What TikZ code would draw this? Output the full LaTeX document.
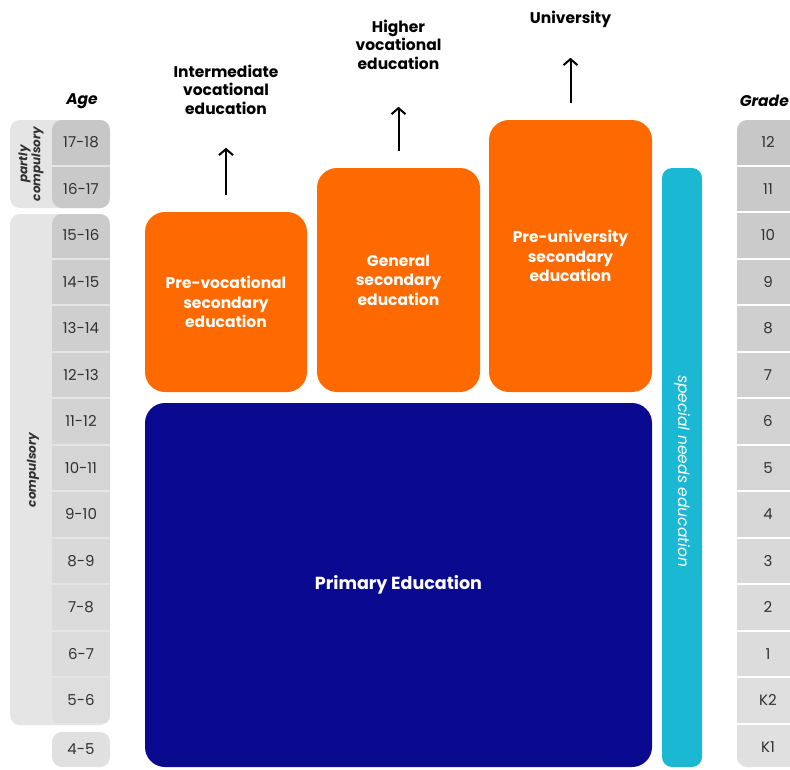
\documentclass[tikz,border=0pt]{standalone}
\usepackage{fontspec}
\setmainfont{Poppins}
\usetikzlibrary{arrows.meta, positioning}

\definecolor{nlorange}{RGB}{255,106,0}
\definecolor{nlblue}{RGB}{10,10,145}
\definecolor{nlcyan}{RGB}{27,184,212}
\definecolor{nlframe}{RGB}{229,229,229}
\definecolor{nltext}{RGB}{50,50,50}

\begin{document}
\begin{tikzpicture}[
      x=1pt,
      y=-1pt,
      stage/.style={
          rectangle,
          rounded corners=20pt,
          align=center,
          inner sep=0pt,
          text=white,
          font=\bfseries\fontsize{15.5}{19.5}\selectfont,
          fill=nlorange
        },
      primary/.style={
          stage,
          font=\bfseries\fontsize{17.5}{20}\selectfont,
          fill=nlblue
        },
      goal/.style={
          align=center,
          inner sep=0pt,
          text=black,
          font=\bfseries\fontsize{15.5}{18.5}\selectfont
        },
      cell/.style={
          rectangle,
          inner sep=0pt,
          minimum width=58pt,
          minimum height=44.5pt,
          text=nltext,
          font=\fontsize{15}{17}\selectfont
        },
      gradecell/.style={
          cell,
          minimum width=62pt
        },
      side/.style={
          rotate=90,
          align=center,
          text=nltext,
          font=\bfseries\itshape\fontsize{12}{13}\selectfont
        },
      head/.style={
          text=black,
          font=\bfseries\itshape\fontsize{15.5}{18}\selectfont
        },
      arrow/.style={
          -{Straight Barb[length=6pt, width=14pt, line width=2pt]},
          line width=2pt,
          shorten <=17pt
        }
    ]

    \clip (0,0) rectangle (790,769);
    \fill[white] (0,0) rectangle (790,769);

    % Age column
    \fill[nlframe, rounded corners=10pt] (10,120) rectangle (110,208);
    \fill[nlframe, rounded corners=10pt] (10,214) rectangle (110,725);
    \begin{scope}
      \clip[rounded corners=10pt] (52,120) rectangle (110,208);
      \foreach \lbl [count=\k from 0] in {17-18,16-17} {
          \pgfmathsetmacro\shade{22-\k*10/13}
          \node[cell, fill=black!\shade] (age\k) at (81,{142.25+46.5*\k}) {\lbl};
        }
    \end{scope}
    \begin{scope}
      \clip[rounded corners=10pt] (52,214) rectangle (110,725);
      \foreach \lbl [count=\k from 2] in {15-16,14-15,13-14,12-13,11-12,10-11,9-10,8-9,7-8,6-7,5-6} {
          \pgfmathsetmacro\shade{22-\k*10/13}
          \node[cell, fill=black!\shade] (age\k) at (81,{142.25+46.5*\k}) {\lbl};
        }
    \end{scope}
    \node[cell, minimum height=35pt, rounded corners=10pt, fill=black!12] (age13) at (81,749.5) {4-5};

    \node[side] (partly) at (31,164) {partly\\compulsory};
    \node[side] (compulsory) at (33,470) {compulsory};
    \node[head] (age) at (82,101) {Age};

    % Grade column
    \begin{scope}
      \clip[rounded corners=10pt] (737,120) rectangle (800,767);
      \foreach \lbl [count=\k from 0] in {12,11,10,9,8,7,6,5,4,3,2,1,K2,K1} {
          \pgfmathsetmacro\shade{22-\k*10/13}
          \node[gradecell, fill=black!\shade] (grade\k) at (768,{142.25+46.5*\k}) {\lbl};
        }
    \end{scope}
    \node[head, anchor=east, inner sep=0pt] (grade) at (789,101) {Grade};

    % Special needs
    \node[rectangle, rounded corners=10pt, fill=nlcyan, minimum width=40pt, minimum height=599pt] (special) at (682,467.5) {};
    \node[rotate=-90, text=white, font=\itshape\fontsize{15.5}{17}\selectfont] (speciallbl) at (682,471) {special needs education};

    % Nodes
    \node[stage, minimum width=162pt, minimum height=180pt] (prevoc) at (226,302) {Pre-vocational\\secondary\\education};
    \node[stage, minimum width=163pt, minimum height=224pt] (general) at (398.5,280) {General\\secondary\\education};
    \node[stage, minimum width=163pt, minimum height=272pt] (preuni) at (570.5,256) {Pre-university\\secondary\\education};
    \node[primary, minimum width=507pt, minimum height=364pt] (primary) at (398.5,585) {Primary Education};

    \node[goal, above=97pt of prevoc] (intvoc) {Intermediate\\vocational\\education};
    \node[goal, above=98pt of general] (highvoc) {Higher\\vocational\\education};
    \node[goal, above=92pt of preuni] (uni) {University};

    % Arrows
    \draw[arrow, shorten >=33pt] (prevoc) -- (intvoc);
    \draw[arrow, shorten >=37pt] (general) -- (highvoc);
    \draw[arrow, shorten >=30pt] (preuni) -- (uni);

  \end{tikzpicture}
\end{document}
